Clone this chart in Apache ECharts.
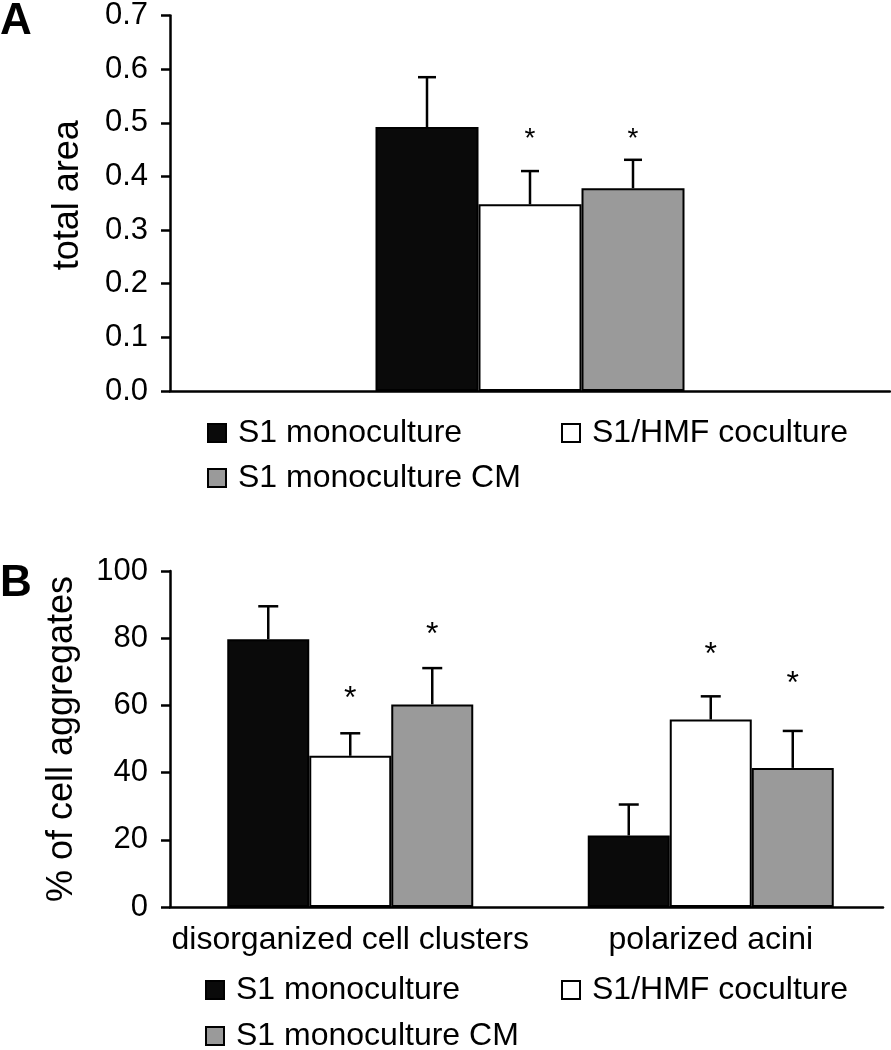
<!DOCTYPE html>
<html>
<head>
<meta charset="utf-8">
<script src="https://cdn.jsdelivr.net/npm/echarts@6/dist/echarts.min.js"></script>
<style>
html,body{margin:0;padding:0;background:#fff;}
#c{width:891px;height:1050px;}
</style>
</head>
<body>
<div id="c"></div>
<script>
// ---------- DATA ----------
const seriesNames = ['S1 monoculture', 'S1/HMF coculture', 'S1 monoculture CM'];
const seriesColors = ['#0a0a0a', '#ffffff', '#9a9a9a'];

// Panel A
const catsA = [''];
const meanA = [[0.492], [0.348], [0.378]];
const errA = [[0.093], [0.062], [0.053]];
const starA = [[null], [0.48], [0.48]];
const ticksA = { min: 0, max: 0.7, interval: 0.1 };
const yNameA = 'total area';

// Panel B
const catsB = ['disorganized cell clusters', 'polarized acini'];
const meanB = [[79.7, 21.3], [45.0, 55.8], [60.3, 41.4]];
const errB = [[9.8, 9.2], [6.7, 6.9], [10.8, 11.0]];
const starB = [[null, null], [64, 77], [83, 68.5]];
const ticksB = { min: 0, max: 100, interval: 20 };
const yNameB = '% of cell aggregates';

// ---------- STYLE ----------
const FONT = "'Liberation Sans', Arial, sans-serif";
const AX = { lineStyle: { color: '#000', width: 2.5 } };

function barSeries(gi, means, barW) {
  return means.map((vals, k) => ({
    type: 'bar', name: seriesNames[k], xAxisIndex: gi, yAxisIndex: gi,
    data: vals, barWidth: barW, barGap: '0%',
    itemStyle: { color: seriesColors[k], borderColor: '#000', borderWidth: 2 },
    emphasis: { disabled: true }, silent: true
  }));
}

function errSeries(gi, means, errs, stars, barW, cap, starSize) {
  return means.map((vals, k) => ({
    type: 'custom', xAxisIndex: gi, yAxisIndex: gi, z: 10, silent: true,
    data: vals.map((m, i) => [i, m, m + errs[k][i], stars[k][i] == null ? '-' : stars[k][i]]),
    encode: { x: 0, y: 2 },
    renderItem: function (params, api) {
      const i = api.value(0);
      const b = api.coord([i, api.value(1)]);
      const t = api.coord([i, api.value(2)]);
      const x = b[0] + (k - 1) * barW;
      const ch = [
        { type: 'line', shape: { x1: x, y1: b[1], x2: x, y2: t[1] }, style: { stroke: '#000', lineWidth: 2.5 } },
        { type: 'line', shape: { x1: x - cap / 2, y1: t[1], x2: x + cap / 2, y2: t[1] }, style: { stroke: '#000', lineWidth: 2.5 } }
      ];
      const sv = api.value(3);
      if (!isNaN(sv)) {
        const s = api.coord([i, sv]);
        ch.push({ type: 'text', x: x, y: s[1] + starSize * 0.22,
          style: { text: '*', fill: '#000', font: starSize + 'px ' + FONT, align: 'center', verticalAlign: 'middle' } });
      }
      return { type: 'group', children: ch };
    }
  }));
}

function legendItem(name, left, top) {
  return {
    data: [name], left: left, top: top, padding: 0, itemWidth: 18, itemHeight: 18,
    icon: 'rect', selectedMode: false,
    textStyle: { fontFamily: FONT, fontSize: 32, color: '#000', padding: [0, 0, 0, 7] }
  };
}

const chart = echarts.init(document.getElementById('c'), null, { renderer: 'canvas' });
const option = {
  backgroundColor: '#fff',
  animation: false,
  textStyle: { fontFamily: FONT },
  title: [
    { text: 'A', left: 0, top: 0, padding: 0, textStyle: { fontFamily: FONT, fontSize: 44, fontWeight: 'bold', color: '#000' } },
    { text: 'B', left: 0, top: 562, padding: 0, textStyle: { fontFamily: FONT, fontSize: 44, fontWeight: 'bold', color: '#000' } }
  ],
  legend: [
    legendItem(seriesNames[0], 207, 417),
    legendItem(seriesNames[1], 561, 417),
    legendItem(seriesNames[2], 207, 462),
    legendItem(seriesNames[0], 205, 974),
    legendItem(seriesNames[1], 561, 974),
    legendItem(seriesNames[2], 205, 1020)
  ],
  grid: [
    { left: 170, top: 15, width: 720, height: 376 },
    { left: 170, top: 571, width: 736, height: 336 },
    { left: 170, top: 571, width: 713, height: 336 }
  ],
  xAxis: [
    { type: 'category', gridIndex: 0, data: catsA, axisLine: AX, axisTick: { show: false }, axisLabel: { show: false } },
    { type: 'category', gridIndex: 1, data: catsB, axisLine: { show: false }, axisTick: { show: false },
      axisLabel: { interval: 0, hideOverlap: false, fontFamily: FONT, fontSize: 32, color: '#000', margin: 17 } },
    { type: 'value', gridIndex: 2, min: 0, max: 1, axisLine: { show: true, onZero: false, lineStyle: { color: '#000', width: 2.5 } },
      axisTick: { show: false }, axisLabel: { show: false }, splitLine: { show: false } }
  ],
  yAxis: [
    { type: 'value', gridIndex: 0, min: ticksA.min, max: ticksA.max, interval: ticksA.interval,
      name: yNameA, nameLocation: 'middle', nameGap: 84, nameRotate: 90,
      nameTextStyle: { fontFamily: FONT, fontSize: 36, color: '#000', padding: [0, 0, 0, 16] },
      axisLine: { show: true, lineStyle: { color: '#000', width: 2.5 } },
      axisTick: { show: true, length: 9, lineStyle: { color: '#000', width: 2.5 } },
      axisLabel: { fontFamily: FONT, fontSize: 31, color: '#000', margin: 22, formatter: v => v.toFixed(1) },
      splitLine: { show: false } },
    { type: 'value', gridIndex: 1, min: ticksB.min, max: ticksB.max, interval: ticksB.interval,
      name: yNameB, nameLocation: 'middle', nameGap: 90, nameRotate: 90,
      nameTextStyle: { fontFamily: FONT, fontSize: 36, color: '#000' },
      axisLine: { show: true, lineStyle: { color: '#000', width: 2.5 } },
      axisTick: { show: true, length: 9, lineStyle: { color: '#000', width: 2.5 } },
      axisLabel: { fontFamily: FONT, fontSize: 31, color: '#000', margin: 22 },
      splitLine: { show: false } },
    { type: 'value', gridIndex: 2, show: false }
  ],
  series: [].concat(
    barSeries(0, meanA, 103),
    barSeries(1, meanB, 82),
    errSeries(0, meanA, errA, starA, 103, 18, 28),
    errSeries(1, meanB, errB, starB, 82, 20, 32)
  )
};
chart.setOption(option);
</script>
</body>
</html>
